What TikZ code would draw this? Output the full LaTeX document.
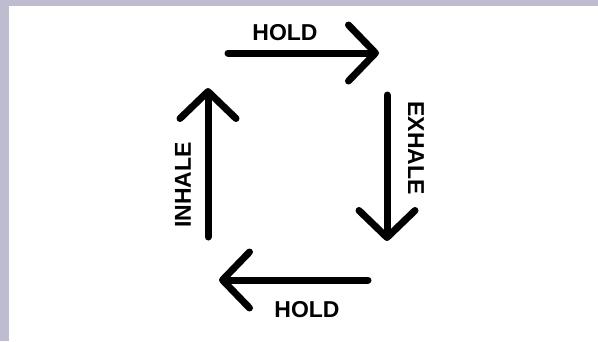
\documentclass[tikz,border=0pt]{standalone}
\usepackage{fontspec}
\setmainfont{Liberation Sans}
\usepackage{tikz}
\usetikzlibrary{arrows.meta}
\usepackage{xcolor}
\definecolor{frame}{RGB}{190,188,208}

\begin{document}
\begin{tikzpicture}[x=1pt,y=-1pt,
  breath/.style={line width=7pt,line cap=round,
    -{Straight Barb[length=27pt,width=56pt,round]}},
  phase/.style={inner sep=0pt,font=\bfseries\fontsize{23}{23}\selectfont}]
\useasboundingbox (0,0) rectangle (598,341);
\fill[frame] (0,0) rectangle (598,341);
\fill[white] (9,6) rectangle (598,341);
% ends of the four arrows
\coordinate (topstart) at (228,53);
\coordinate (topend) at (379,53);
\coordinate (rightstart) at (387,95);
\coordinate (rightend) at (387,241);
\coordinate (bottomstart) at (368,280);
\coordinate (bottomend) at (219,280);
\coordinate (leftstart) at (208,237);
\coordinate (leftend) at (208,88);
\draw[breath] (topstart) -- (topend);
\draw[breath] (rightstart) -- (rightend);
\draw[breath] (bottomstart) -- (bottomend);
\draw[breath] (leftstart) -- (leftend);
% labels
\node[phase] (holdtop) at (285,33) {HOLD};
\node[phase,rotate=-90] (exhale) at (416,148) {EXHALE};
\node[phase] (holdbottom) at (307,310) {HOLD};
\node[phase,rotate=90] (inhale) at (183,185) {INHALE};
\end{tikzpicture}
\end{document}
